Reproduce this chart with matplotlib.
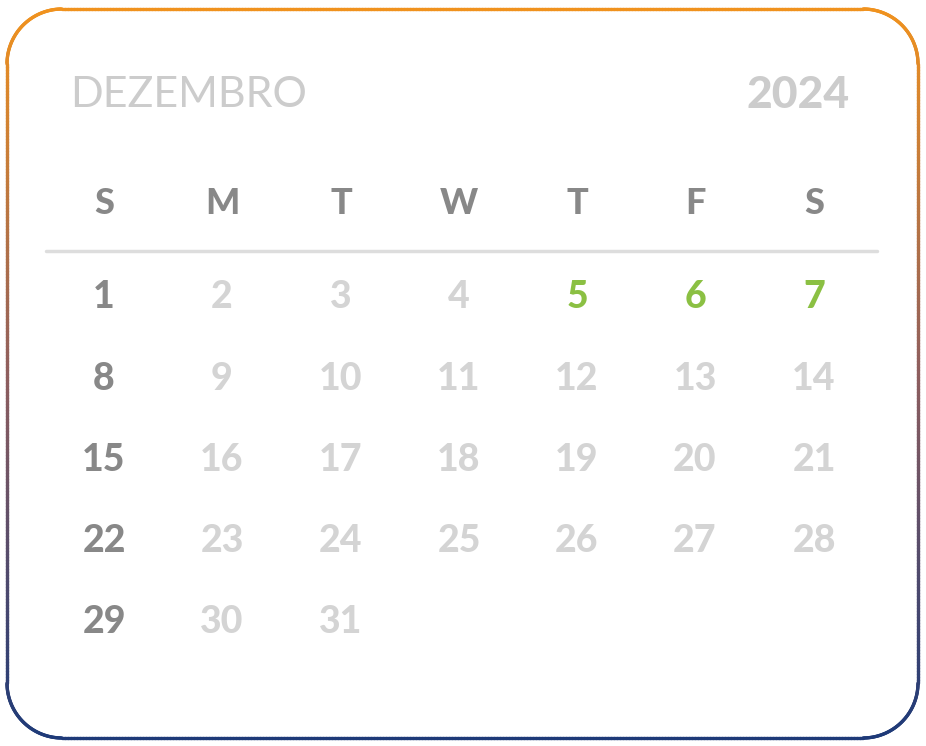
import matplotlib.pyplot as plt
import numpy as np
from matplotlib.collections import LineCollection
from matplotlib.colors import LinearSegmentedColormap

month_name = "DEZEMBRO"
year = "2024"
weekdays = ["S", "M", "T", "W", "T", "F", "S"]
first_weekday = 0  # Dec 1 2024 is Sunday
n_days = 31
highlight_days = [5, 6, 7]

W, H = 926, 746
fig = plt.figure(figsize=(W / 100, H / 100), dpi=100)
ax = fig.add_axes([0, 0, 1, 1])
ax.set_xlim(0, W)
ax.set_ylim(H, 0)
ax.axis('off')

# gradient rounded border built from straight sides and quarter arcs
x0, y0, x1, y1, r = 7, 9, 918, 738, 55
corners = [(x1 - r, y0 + r, -90, 0), (x1 - r, y1 - r, 0, 90),
           (x0 + r, y1 - r, 90, 180), (x0 + r, y0 + r, 180, 270)]
px, py = [], []
for cx, cy, a0, a1 in corners:
    t = np.radians(np.linspace(a0, a1, 40))
    px.extend(cx + r * np.cos(t))
    py.extend(cy + r * np.sin(t))
px.append(px[0]); py.append(py[0])
# densify
xs, ys = [], []
for i in range(len(px) - 1):
    n = max(2, int(np.hypot(px[i + 1] - px[i], py[i + 1] - py[i]) / 3))
    xs.extend(np.linspace(px[i], px[i + 1], n, endpoint=False))
    ys.extend(np.linspace(py[i], py[i + 1], n, endpoint=False))
xs.append(xs[0]); ys.append(ys[0])
pts = np.column_stack([xs, ys]).reshape(-1, 1, 2)
segs = np.concatenate([pts[:-1], pts[1:]], axis=1)
cmap = LinearSegmentedColormap.from_list("b", ["#F0921E", "#8E5E5E", "#1E3A78"])
ymid = segs[:, :, 1].mean(axis=1)
ax.add_collection(LineCollection(segs, colors=cmap((ymid - y0) / (y1 - y0)),
                                 linewidths=2.4, capstyle='round'))

font = "Lato"
ax.text(70, 95, month_name, fontsize=31, color="#cccccc", family=font,
        ha='left', va='center')
ax.text(850, 95, year, fontsize=32, color="#cccccc", family=font,
        fontweight='black', ha='right', va='center')

col_x = [104, 222, 341, 459, 577, 695, 814]
row_y = [296, 378, 459, 540, 621]
for x, d in zip(col_x, weekdays):
    ax.text(x, 204, d, fontsize=26, color="#888888", family=font,
            fontweight='black', ha='center', va='center')
ax.plot([46, 877], [251, 251], color="#dddddd", lw=2.5, solid_capstyle='round')

for day in range(1, n_days + 1):
    idx = first_weekday + day - 1
    c, rr = idx % 7, idx // 7
    if day in highlight_days:
        color = "#8BC043"
    elif c == 0:
        color = "#888888"
    else:
        color = "#d4d4d4"
    ax.text(col_x[c], row_y[rr] + 1, str(day), fontsize=27, color=color,
            family=font, fontweight='black', ha='center', va='center')

fig.savefig("out.png", dpi=100)
